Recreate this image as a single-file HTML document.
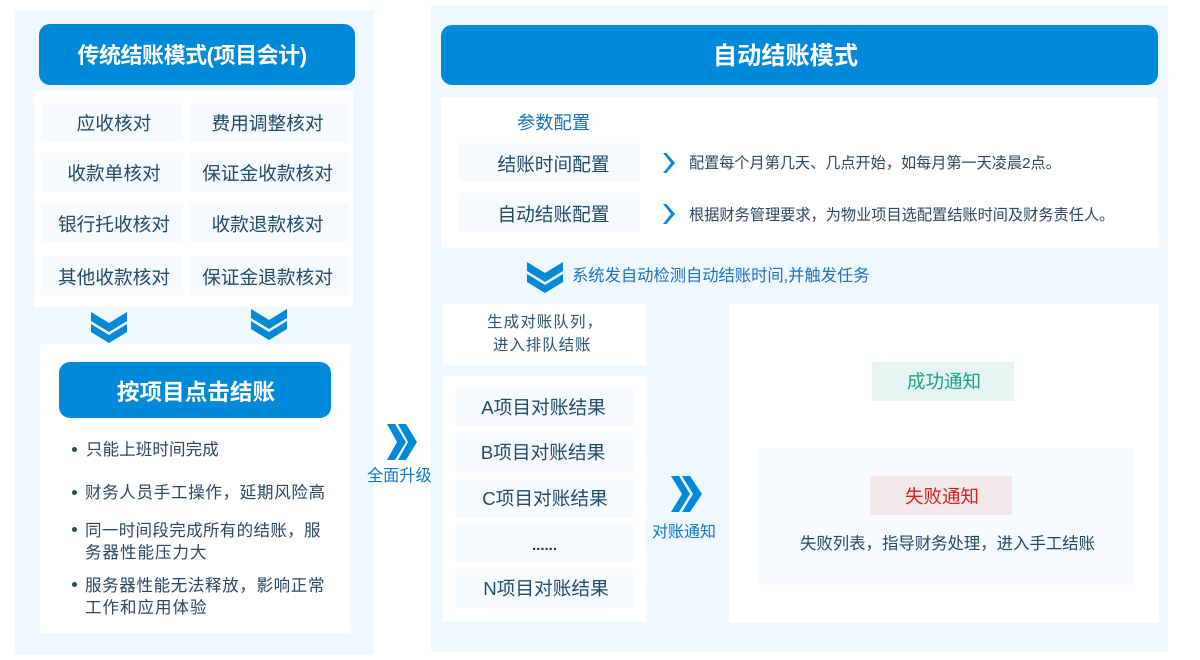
<!DOCTYPE html>
<html lang="zh"><head><meta charset="utf-8"><style>
html,body{margin:0;padding:0;background:#fff}
#p{position:relative;width:1200px;height:660px;overflow:hidden;font-family:"Liberation Sans","Noto Sans CJK SC",sans-serif;color:#1f4a68}
#p div{position:absolute;box-sizing:border-box}
.c{display:flex;align-items:center;justify-content:center;white-space:nowrap;text-align:center}
.h{background:#0189d9;color:#fff;font-weight:700;border-radius:11px}
.w{background:#fff}
.g{background:#f6fbff;font-size:18.7px}
.l{padding-left:4px}
.r{padding-right:3px}
.t{white-space:nowrap;line-height:1}
.b{font-size:16.5px;color:#2a4660;white-space:nowrap;line-height:22px}
.d{width:5px;height:5px;border-radius:50%;background:#1f4a68}
svg{position:absolute}
</style></head><body><div id="p">
<div style="left:15px;top:10px;width:359px;height:645px;background:#eff7ff"></div>
<div style="left:431px;top:6px;width:737px;height:646px;background:#eff7ff"></div>

<div class="h c" style="left:39px;top:24px;width:316px;height:61px;font-size:22px;letter-spacing:-.46px;padding:0 10px 2px 0">传统结账模式(项目会计)</div>
<div class="w" style="left:34px;top:91px;width:319px;height:216px"></div>
<div class="g c l" style="left:41px;top:103px;width:142px;height:39px">应收核对</div>
<div class="g c r" style="left:190px;top:103px;width:158px;height:39px">费用调整核对</div>
<div class="g c l" style="left:41px;top:153px;width:142px;height:39px">收款单核对</div>
<div class="g c r" style="left:190px;top:153px;width:158px;height:39px">保证金收款核对</div>
<div class="g c l" style="left:41px;top:203px;width:142px;height:39px;padding-top:2px">银行托收核对</div>
<div class="g c r" style="left:190px;top:203px;width:158px;height:39px;padding-top:2px">收款退款核对</div>
<div class="g c l" style="left:41px;top:256px;width:142px;height:39px;padding-top:2px">其他收款核对</div>
<div class="g c r" style="left:190px;top:256px;width:158px;height:39px;padding-top:2px">保证金退款核对</div>

<svg style="left:90px;top:311px" width="38" height="33"><path d="M1 1L19 12L37 1V10L19 21L1 10ZM1 13L19 24L37 13V21L19 32L1 21Z" fill="#0189d9"/></svg>
<svg style="left:250px;top:308px" width="38" height="33"><path d="M1 1L19 12L37 1V10L19 21L1 10ZM1 13L19 24L37 13V21L19 32L1 21Z" fill="#0189d9"/></svg>

<div class="w" style="left:40px;top:344px;width:310px;height:289px"></div>
<div class="h c" style="left:59px;top:362px;width:272px;height:56px;font-size:22.6px;padding-left:2px">按项目点击结账</div>
<div class="d" style="left:72px;top:447px"></div><div class="b" style="left:86px;top:439px;letter-spacing:.1px">只能上班时间完成</div>
<div class="d" style="left:72px;top:490px"></div><div class="b" style="left:85px;top:482px;letter-spacing:.7px">财务人员手工操作，延期风险高</div>
<div class="d" style="left:72px;top:527px"></div><div class="b" style="left:85px;top:520px;letter-spacing:.35px">同一时间段完成所有的结账，服<br><span style="letter-spacing:1px">务器性能压力大</span></div>
<div class="d" style="left:72px;top:582px"></div><div class="b" style="left:85px;top:575px;letter-spacing:.65px">服务器性能无法释放，影响正常<br><span style="letter-spacing:1px">工作和应用体验</span></div>

<svg style="left:386px;top:423px" width="32" height="38"><path d="M1 1H9L20 19L9 37H1L11 19ZM12 1H20L31 19L20 37H12L22 19Z" fill="#0189d9"/></svg>
<div class="t" style="left:367px;top:468px;font-size:16.2px;color:#0a78c8">全面升级</div>

<div class="h c" style="left:441px;top:25px;width:717px;height:60px;font-size:24.2px;padding:0 28px 3px 0">自动结账模式</div>
<div class="w" style="left:441px;top:97px;width:717px;height:151px"></div>
<div class="t" style="left:517px;top:114px;font-size:18.3px;color:#1a72b8">参数配置</div>
<div class="g c" style="left:459px;top:143px;width:181px;height:39px;padding:1px 0 0 8px">结账时间配置</div>
<div class="g c" style="left:459px;top:193px;width:181px;height:39px;padding:1px 0 0 8px">自动结账配置</div>
<svg style="left:662px;top:152px" width="14" height="22"><path d="M1 1H4.5L13 11L4.5 21H1L9 11Z" fill="#0a88dc"/></svg>
<svg style="left:662px;top:203px" width="14" height="22"><path d="M1 1H4.5L13 11L4.5 21H1L9 11Z" fill="#0a88dc"/></svg>
<div class="t" style="left:689px;top:156px;font-size:15.15px;color:#2a4660">配置每个月第几天、几点开始，如每月第一天凌晨2点。</div>
<div class="t" style="left:689px;top:208px;font-size:15.2px;color:#2a4660">根据财务管理要求，为物业项目选配置结账时间及财务责任人。</div>

<svg style="left:526px;top:261px" width="38" height="33"><path d="M1 1L19 12L37 1V10L19 21L1 10ZM1 13L19 24L37 13V21L19 32L1 21Z" fill="#0189d9"/></svg>
<div class="t" style="left:572px;top:268px;font-size:16.3px;color:#1a72b8">系统发自动检测自动结账时间,并触发任务</div>

<div class="w" style="left:443px;top:304px;width:203px;height:61px"></div>
<div class="t" style="left:487px;top:315px;font-size:15.5px;line-height:16px;letter-spacing:1.1px;color:#2a5570">生成对账队列，</div>
<div class="t" style="left:493px;top:338px;font-size:15.5px;line-height:16px;letter-spacing:.9px;color:#2a5570">进入排队结账</div>
<div class="w" style="left:443px;top:376px;width:203px;height:246px"></div>
<div class="g c" style="left:456px;top:387px;width:177px;height:39px;padding-right:2px">A项目对账结果</div>
<div class="g c" style="left:456px;top:433px;width:177px;height:39px;padding:0 3px 2px 0">B项目对账结果</div>
<div class="g c" style="left:456px;top:479px;width:177px;height:39px;padding:0 0 2px 1px">C项目对账结果</div>
<div class="g c" style="left:456px;top:523px;width:177px;height:39px;font-size:15px;padding-top:6px;color:#12324a;font-weight:700">......</div>
<div class="g c" style="left:456px;top:569px;width:177px;height:39px;padding:0 0 2px 3px">N项目对账结果</div>

<svg style="left:670px;top:475px" width="33" height="38"><path d="M1 1H9L20 19L9 37H1L12 19ZM12 1H20L32 19L20 37H12L23 19Z" fill="#0189d9"/></svg>
<div class="t" style="left:652px;top:525px;font-size:16px;color:#0a78c8">对账通知</div>

<div class="w" style="left:729px;top:304px;width:430px;height:319px"></div>
<div class="c" style="left:872px;top:362px;width:142px;height:39px;background:#e6f5f2;color:#1aa287;font-size:18.5px;padding-bottom:2px;padding-left:2px">成功通知</div>
<div style="left:758px;top:448px;width:377px;height:137px;background:#f6fbff"></div>
<div class="c" style="left:870px;top:476px;width:142px;height:39px;background:#f2e8ea;color:#d81e1e;font-size:18.5px;padding-left:2px">失败通知</div>
<div class="t" style="left:800px;top:536px;font-size:16.4px;color:#1f4a68">失败列表，指导财务处理，进入手工结账</div>
</div></body></html>
